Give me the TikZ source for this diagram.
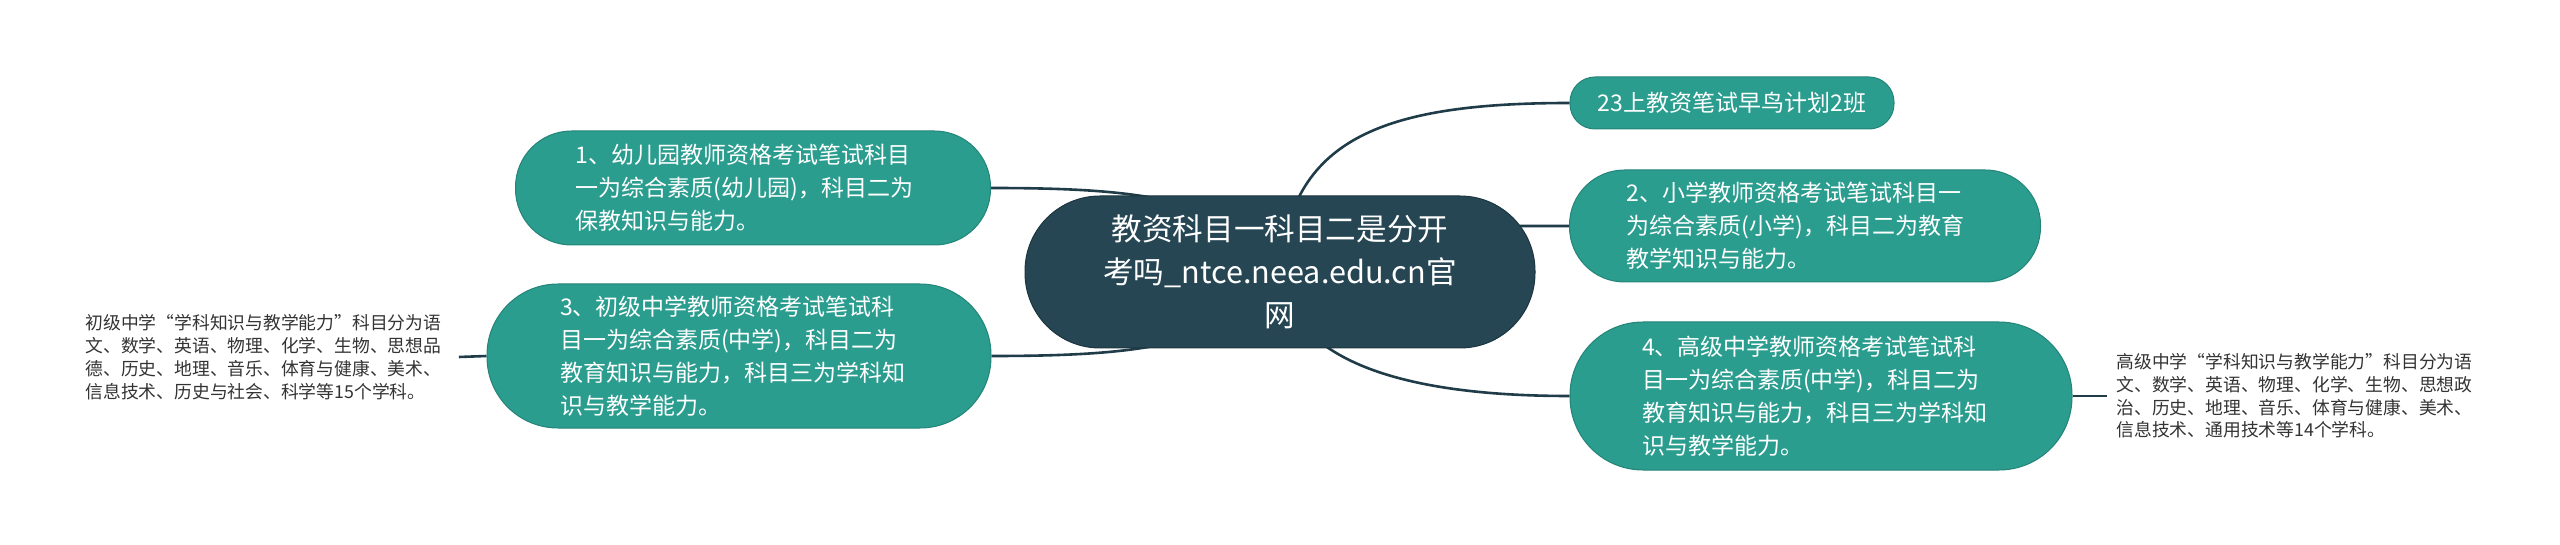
\documentclass[tikz,border=0pt]{standalone}
\usepackage{fontspec}
\setmainfont{Noto Sans CJK SC}
\usetikzlibrary{backgrounds}
\definecolor{tealfill}{HTML}{2A9D8F}
\definecolor{tealedge}{HTML}{238477}
\definecolor{darkfill}{HTML}{264653}
\definecolor{darkedge}{HTML}{1C3640}
\definecolor{linkcol}{HTML}{1F3C48}
\definecolor{leafcol}{HTML}{333333}
\tikzset{
  childbox/.style={draw=tealedge, line width=0.5pt, fill=tealfill, text=white,
    inner xsep=0pt, inner ysep=0pt, align=left,
    font=\fontsize{11.5pt}{16.5pt}\selectfont},
  rootbox/.style={draw=darkedge, line width=0.5pt, fill=darkfill, text=white,
    inner sep=0pt, align=center, text width=240pt,
    minimum width=255pt, minimum height=76pt, rounded corners=37.5pt,
    font=\fontsize{15.3pt}{21.5pt}\selectfont},
  leafbox/.style={text=leafcol, inner xsep=4.5pt, inner ysep=0pt, align=left,
    text width=182pt, font=\fontsize{8.9pt}{11.4pt}\selectfont},
  link/.style={draw=linkcol, line width=1.3pt}
}
\begin{document}
\begin{tikzpicture}[x=0.5pt,y=-0.5pt]
\useasboundingbox (0,0) rectangle (2560,545);

\node[rootbox] (root) at (1280,272) {教资科目一科目二是分开\\考吗\_ntce.neea.edu.cn官\\网};

\node[childbox, minimum width=237.5pt, minimum height=57pt, text width=177.5pt, rounded corners=28pt] (n1) at (753,188)
  {1、幼儿园教师资格考试笔试科目\\一为综合素质(幼儿园)，科目二为\\保教知识与能力。};
\node[childbox, minimum width=252pt, minimum height=72pt, text width=179pt, rounded corners=35.5pt] (n3) at (739,356)
  {3、初级中学教师资格考试笔试科\\目一为综合素质(中学)，科目二为\\教育知识与能力，科目三为学科知\\识与教学能力。};
\node[childbox, align=center, minimum width=162pt, minimum height=26pt, text width=150pt, rounded corners=12.5pt] (n0) at (1732,103)
  {23上教资笔试早鸟计划2班};
\node[childbox, minimum width=235.5pt, minimum height=56pt, text width=178.5pt, rounded corners=27.5pt] (n2) at (1805,226)
  {2、小学教师资格考试笔试科目一\\为综合素质(小学)，科目二为教育\\教学知识与能力。};
\node[childbox, minimum width=251pt, minimum height=74pt, text width=179pt, rounded corners=36.5pt] (n4) at (1821,396)
  {4、高级中学教师资格考试笔试科\\目一为综合素质(中学)，科目二为\\教育知识与能力，科目三为学科知\\识与教学能力。};

\node[leafbox, anchor=west] (l3) at (76,357)
  {初级中学“学科知识与教学能力”科目分为语\\文、数学、英语、物理、化学、生物、思想品\\德、历史、地理、音乐、体育与健康、美术、\\信息技术、历史与社会、科学等15个学科。};
\node[leafbox, anchor=west] (l4) at (2107,396)
  {高级中学“学科知识与教学能力”科目分为语\\文、数学、英语、物理、化学、生物、思想政\\治、历史、地理、音乐、体育与健康、美术、\\信息技术、通用技术等14个学科。};

\begin{pgfonlayer}{background}
\draw[link] (n1.east) .. controls (1150,188) and (1230,200) .. (root.center);
\draw[link] (n3.east) .. controls (1150,356) and (1230,344) .. (root.center);
\draw[link] (root.center) .. controls (1290,140) and (1380,103) .. (n0.west);
\draw[link] (root.center) .. controls (1330,226) and (1400,226) .. (n2.west);
\draw[link] (root.center) .. controls (1290,360) and (1400,396) .. (n4.west);
\draw[link] (n3.west) -- (l3.east);
\draw[link] (n4.east) -- (l4.west);
\end{pgfonlayer}
\end{tikzpicture}
\end{document}
